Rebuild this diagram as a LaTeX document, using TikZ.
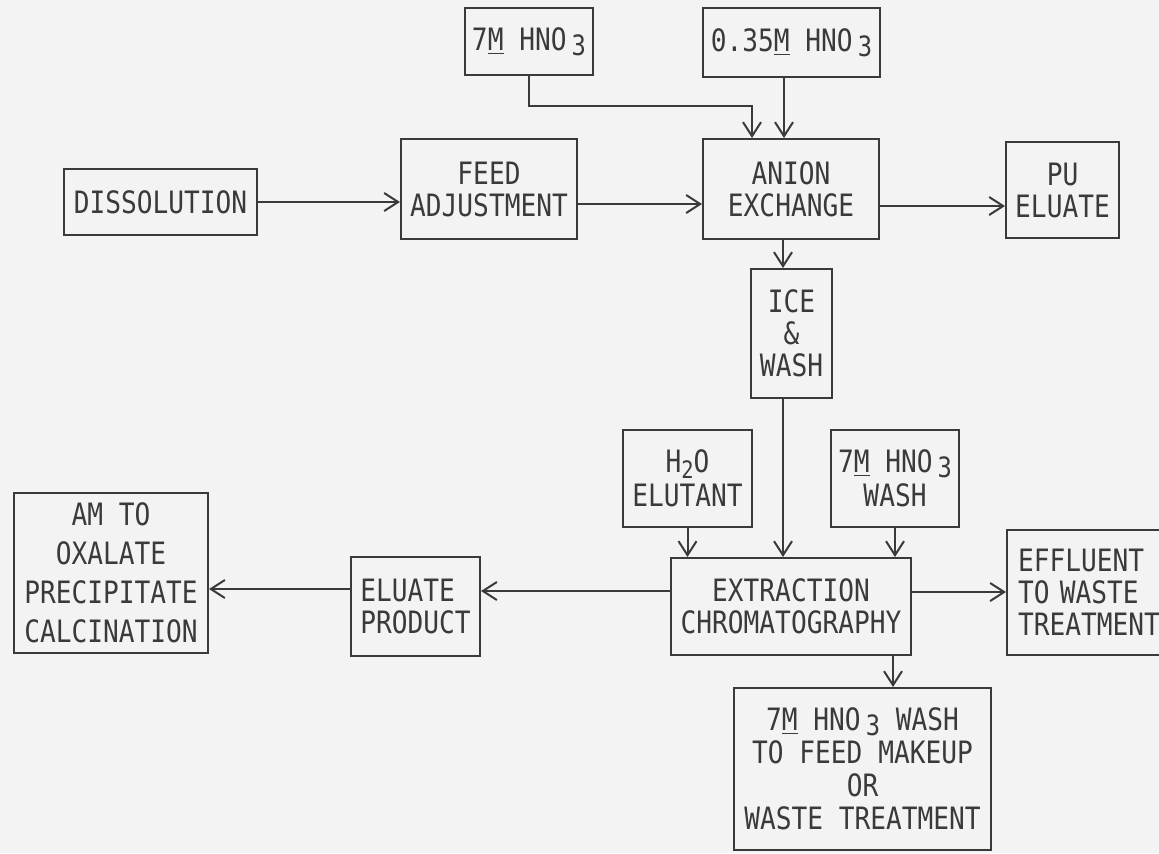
\documentclass[tikz,border=0pt]{standalone}
\usepackage{fontspec}
\newfontfamily\typefont[FakeStretch=0.85]{DejaVu Sans Mono}
\usetikzlibrary{arrows.meta,calc}
\definecolor{bg}{HTML}{F3F3F3}
\definecolor{ink}{HTML}{3A3A3A}
\newcommand\lo[1]{\,\raisebox{-0.3ex}{\fontsize{14}{14}\selectfont #1}}
\newcommand\sublo[1]{\raisebox{-0.35ex}{\fontsize{12}{12}\selectfont #1}}
\begin{document}
\begin{tikzpicture}[x=0.5pt,y=-0.5pt,
  box/.style={draw=ink, line width=1pt, text=ink, align=center, inner sep=0pt,
    font=\typefont\fontsize{15.4}{16}\selectfont},
  arr/.style={draw=ink, line width=1pt, -{Straight Barb[length=7pt,width=9pt]}}]
\fill[bg] (0,0) rectangle (1159,853);
\useasboundingbox (0,0) rectangle (1159,853);
\clip (0,0) rectangle (1159,853);

\node[box, minimum width=64pt, minimum height=33.5pt] (m7) at (529,41.5) {7\underline{M} HNO\lo{3}};
\node[box, minimum width=88.5pt, minimum height=34.5pt] (m035) at (791.5,42.5) {0.35\underline{M} HNO\lo{3}};
\node[box, minimum width=96.5pt, minimum height=33pt] (diss) at (160.5,202) {DISSOLUTION};
\node[box, minimum width=88pt, minimum height=50pt] (feed) at (489,189) {FEED\\ADJUSTMENT};
\node[box, minimum width=88pt, minimum height=50pt] (anion) at (791,189) {ANION\\EXCHANGE};
\node[box, minimum width=56.5pt, minimum height=48pt] (pu) at (1062.5,190) {PU\\ELUATE};
\node[box, minimum width=40.5pt, minimum height=64.5pt] (ice) at (791.5,333.5) {ICE\\\&\\WASH};
\node[box, minimum width=64.5pt, minimum height=48.5pt,
  font=\typefont\fontsize{15.4}{17}\selectfont] (h2o) at (687.5,478.5) {H\sublo{2}O\\ELUTANT};
\node[box, minimum width=64pt, minimum height=48.5pt,
  font=\typefont\fontsize{15.4}{17}\selectfont] (wash7) at (895,478.5) {7\underline{M} HNO\lo{3}\\WASH};
\node[box, minimum width=120pt, minimum height=48.5pt] (ext) at (791,606.5) {EXTRACTION\\CHROMATOGRAPHY};
\node[box, minimum width=97pt, minimum height=80pt,
  font=\typefont\fontsize{15.4}{19.5}\selectfont] (am) at (111,573) {AM TO\\OXALATE\\PRECIPITATE\\CALCINATION};
\node[box, minimum width=64.5pt, minimum height=49.5pt, align=left] (elu) at (415.5,606.5) {ELUATE\\PRODUCT};
\node[box, minimum height=62.5pt, text width=73pt, inner xsep=5.5pt, align=left] (eff) at (1091,592.5) {EFFLUENT\\TO WASTE\\TREATMENT};
\node[box, minimum width=128.5pt, minimum height=81pt,
  font=\typefont\fontsize{15.4}{16.5}\selectfont] (bot) at (862.5,769) {7\underline{M} HNO\lo{3} WASH\\TO FEED MAKEUP\\OR\\WASTE TREATMENT};

\draw[arr] (diss.east) -- (diss.east -| feed.west);
\coordinate (f1) at ($(feed.east)+(0,15)$);
\draw[arr] (f1) -- (f1 -| anion.west);
\coordinate (a2) at ($(anion.east)+(0,17)$);
\draw[arr] (a2) -- (a2 -| pu.west);
\coordinate (a3) at ($(anion.north)+(-39,0)$);
\draw[arr] (m7.south) |- ($(a3)+(0,-32)$) -- (a3);
\coordinate (a4) at ($(anion.north)+(-7,0)$);
\draw[arr] (a4 |- m035.south) -- (a4);
\coordinate (i1) at ($(ice.north)+(-8.5,0)$);
\draw[arr] (i1 |- anion.south) -- (i1);
\draw[arr] (i1 |- ice.south) -- (i1 |- ext.north);
\draw[arr] (h2o.south) -- (h2o.south |- ext.north);
\draw[arr] (wash7.south) -- (wash7.south |- ext.north);
\coordinate (e1) at ($(ext.west)+(0,-15.5)$);
\draw[arr] (e1) -- (e1 -| elu.east);
\coordinate (e2) at ($(elu.west)+(0,-17.5)$);
\draw[arr] (e2) -- (e2 -| am.east);
\coordinate (e3) at ($(ext.east)+(0,-14.5)$);
\draw[arr] (e3) -- (e3 -| eff.west);
\coordinate (b1) at ($(bot.north)+(30.5,0)$);
\draw[arr] (b1 |- ext.south) -- (b1);
\end{tikzpicture}
\end{document}
